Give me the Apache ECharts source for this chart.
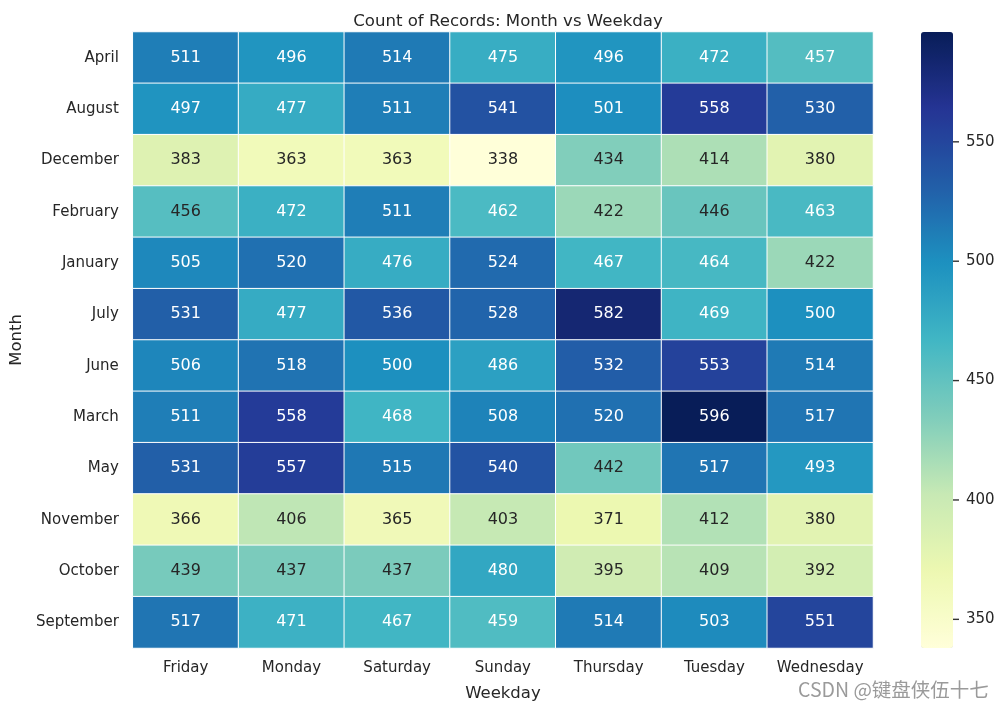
<!DOCTYPE html>
<html>
<head>
<meta charset="utf-8">
<script src="https://cdn.jsdelivr.net/npm/echarts@6/dist/echarts.min.js"></script>
<style>html,body{margin:0;padding:0;background:#fff}#c{width:1005px;height:710px}</style>
</head>
<body>
<div id="c"></div>
<script>
const weekdays = ['Friday','Monday','Saturday','Sunday','Thursday','Tuesday','Wednesday'];
const months = ['April','August','December','February','January','July','June','March','May','November','October','September'];
const counts = [
  [511,496,514,475,496,472,457],
  [497,477,511,541,501,558,530],
  [383,363,363,338,434,414,380],
  [456,472,511,462,422,446,463],
  [505,520,476,524,467,464,422],
  [531,477,536,528,582,469,500],
  [506,518,500,486,532,553,514],
  [511,558,468,508,520,596,517],
  [531,557,515,540,442,517,493],
  [366,406,365,403,371,412,380],
  [439,437,437,480,395,409,392],
  [517,471,467,459,514,503,551]
];
const colorbarTicks = [350,400,450,500,550];
const colorMin = 338, colorMax = 596;
const ylgnbu = ['#ffffd9','#edf8b1','#c7e9b4','#7fcdbb','#41b6c4','#1d91c0','#225ea8','#253494','#081d58'];

const FONT = 'DejaVu Sans';
const TXT = '#262626';
const data = [];
counts.forEach((row, r) => row.forEach((v, c) => {
  data.push({value: [c, r, v], label: {color: v < 457 ? TXT : '#ffffff'}});
}));

const chart = echarts.init(document.getElementById('c'), null, {renderer: 'canvas'});
chart.setOption({
  animation: false,
  backgroundColor: '#ffffff',
  title: {
    text: 'Count of Records: Month vs Weekday',
    left: 503, top: 8, textAlign: 'center',
    textStyle: {fontFamily: FONT, fontSize: 16.6, fontWeight: 'normal', color: TXT}
  },
  grid: [
    {left: 132, right: 132, top: 32, bottom: 62},
    {left: 921, width: 32, top: 32, height: 616}
  ],
  xAxis: [
    {
      type: 'category', data: weekdays, gridIndex: 0,
      name: 'Weekday', nameLocation: 'middle', nameGap: 37,
      nameTextStyle: {fontFamily: FONT, fontSize: 16.5, color: TXT},
      axisLine: {show: false}, axisTick: {show: false}, splitLine: {show: false},
      axisLabel: {fontFamily: FONT, fontSize: 15, color: TXT, margin: 13, interval: 0}
    },
    {type: 'value', gridIndex: 1, show: false, min: 0, max: 1}
  ],
  yAxis: [
    {
      type: 'category', data: months, gridIndex: 0, inverse: true,
      name: 'Month', nameLocation: 'middle', nameGap: 104, nameRotate: 90,
      nameTextStyle: {fontFamily: FONT, fontSize: 16.5, color: TXT},
      axisLine: {show: false}, axisTick: {show: false}, splitLine: {show: false},
      axisLabel: {fontFamily: FONT, fontSize: 15, color: TXT, margin: 14, interval: 0}
    },
    {
      type: 'value', gridIndex: 1, position: 'right', min: colorMin, max: colorMax,
      axisLine: {show: false}, splitLine: {show: false}, axisTick: {show: false},
      axisLabel: {
        fontFamily: FONT, fontSize: 15, color: TXT, margin: 0, customValues: colorbarTicks,
        formatter: v => '{t|}{g|}' + v,
        rich: {
          t: {width: 6, height: 1.4, backgroundColor: '#333333', verticalAlign: 'middle'},
          g: {width: 7, height: 1}
        }
      }
    }
  ],
  visualMap: {
    type: 'continuous', min: colorMin, max: colorMax, seriesIndex: 0,
    calculable: false, showLabel: false, text: null,
    left: 921, top: 32, itemWidth: 32, itemHeight: 616, padding: 0,
    inRange: {color: ylgnbu}
  },
  series: [
    {
      type: 'heatmap', xAxisIndex: 0, yAxisIndex: 0, data: data,
      itemStyle: {borderColor: '#ffffff', borderWidth: 1},
      label: {show: true, fontFamily: FONT, fontSize: 16, formatter: p => p.value[2]},
      emphasis: {disabled: true}
    },
    {type: 'scatter', xAxisIndex: 1, yAxisIndex: 1, data: [], silent: true}
  ],
  graphic: [
    {
      type: 'text', left: 798, top: 680,
      style: {text: 'CSDN @键盘侠伍十七', fill: '#9a9a9a', font: '19.5px "Noto Sans CJK SC", "DejaVu Sans", sans-serif'}
    }
  ]
});
</script>
</body>
</html>
